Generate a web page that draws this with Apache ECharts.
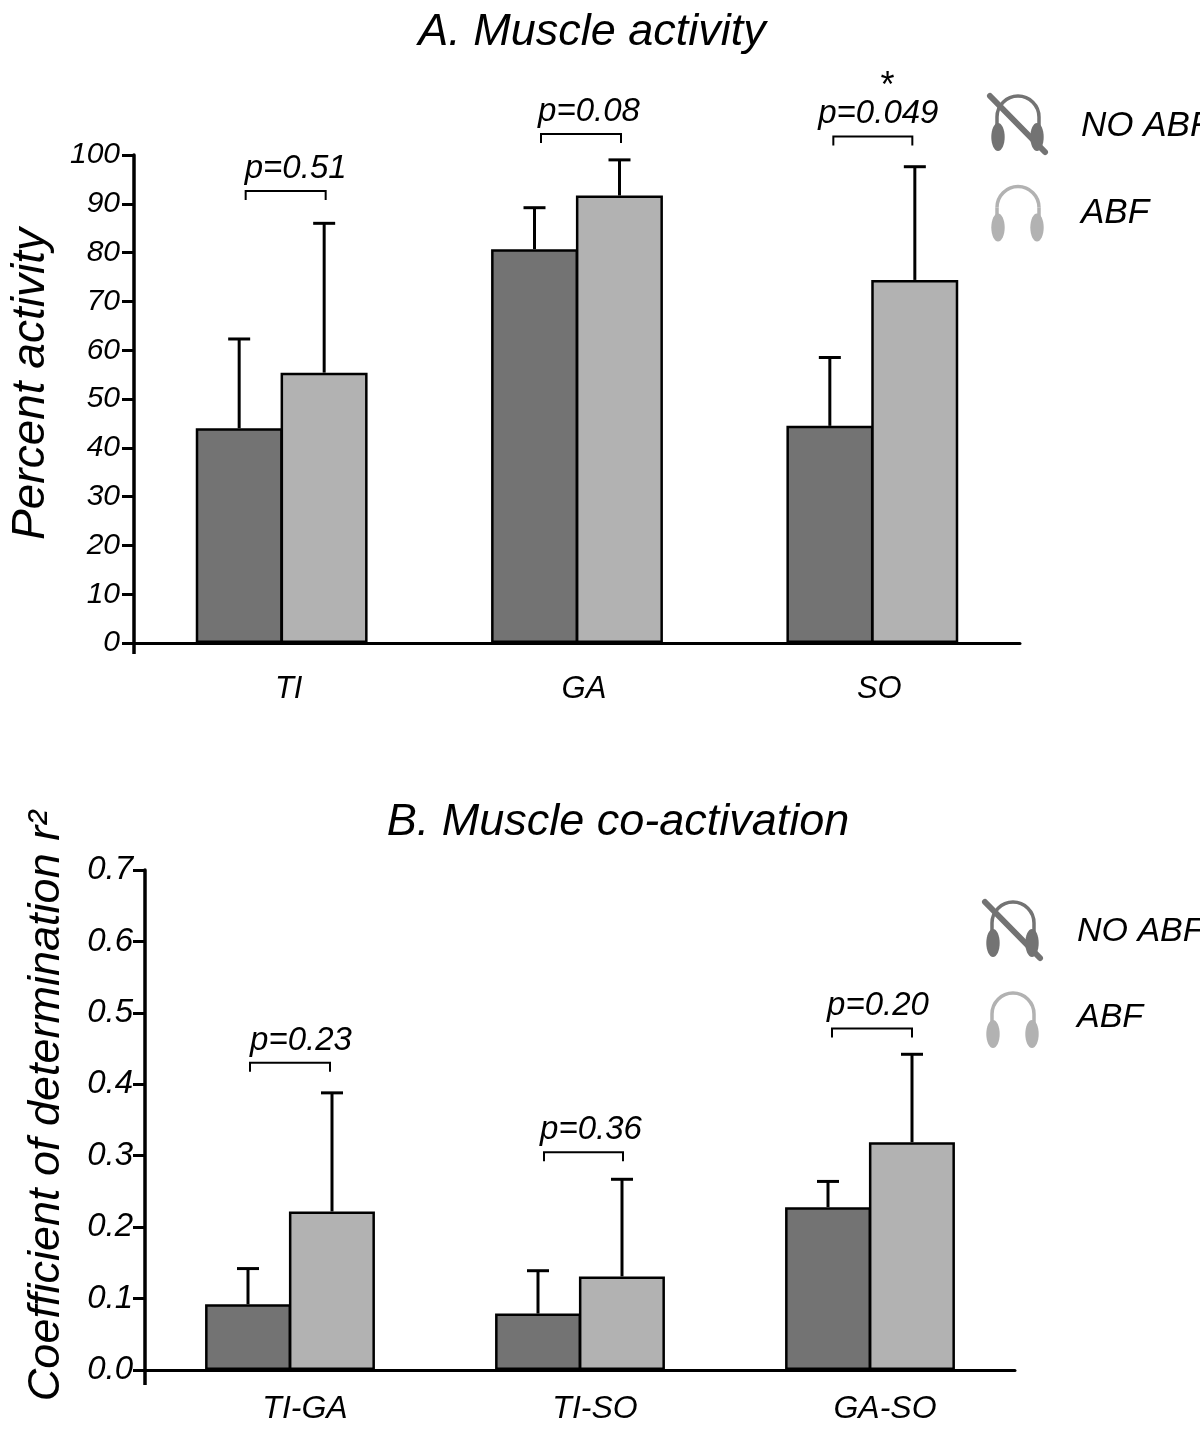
<!DOCTYPE html>
<html><head><meta charset="utf-8">
<style>html,body{margin:0;padding:0;background:#fff}#c{width:1200px;height:1430px}</style>
<script src="https://cdn.jsdelivr.net/npm/echarts@6/dist/echarts.min.js"></script>
</head><body><div id="c"></div>
<script>
const catA = ['TI','GA','SO'];
const noAbfA = [44, 80.7, 44.5];
const abfA = [55.4, 91.7, 74.4];
const noAbfTopA = [62.3, 89.2, 58.5];
const abfTopA = [86, 99, 97.6];
const pA = ['p=0.51','p=0.08','p=0.049'];
const bracketA = [92.6, 104.3, 103.8];

const catB = ['TI-GA','TI-SO','GA-SO'];
const noAbfB = [0.092, 0.079, 0.228];
const abfB = [0.222, 0.131, 0.319];
const noAbfTopB = [0.142, 0.139, 0.264];
const abfTopB = [0.388, 0.267, 0.442];
const pB = ['p=0.23','p=0.36','p=0.20'];
const bracketB = [0.43, 0.305, 0.478];

const FONT = '"Liberation Sans", Arial, sans-serif';
const DARK = '#737373', LIGHT = '#b2b2b2', BLACK = '#000';
const G = [
  {left:134, right:180, top:155, height:488, stem:42.5, barW:87,
   bx:[[-36,44],[-36,44],[-39,40]], lx:[14,12,6]},
  {left:145, right:185, top:870, height:500, stem:42, barW:86,
   bx:[[-40,40],[-36,43],[-38,42]], lx:[11,11,8]}
];
function bars(name, data, color, gi){
  return {type:'bar', name, data, xAxisIndex:gi, yAxisIndex:gi, barWidth:G[gi].barW, barGap:'-2.5%',
    itemStyle:{color, borderColor:BLACK, borderWidth:2.5}, silent:true, z:3};
}
function err(tops, side, gi){
  return {type:'custom', xAxisIndex:gi, yAxisIndex:gi, data:tops.map((v,i)=>[i,v]), z:2, silent:true, clip:false,
    renderItem(p, api){
      const base = side < 0 ? (gi ? noAbfB : noAbfA) : (gi ? abfB : abfA);
      const i = api.value(0), top = api.coord([i, api.value(1)]), bot = api.coord([i, base[i]]);
      const x = top[0] + side*G[gi].stem;
      const st = {stroke:BLACK, lineWidth:3, fill:null};
      return {type:'group', children:[
        {type:'line', shape:{x1:x,y1:top[1],x2:x,y2:bot[1]}, style:st},
        {type:'line', shape:{x1:x-11,y1:top[1],x2:x+11,y2:top[1]}, style:st}
      ]};
    }};
}
function brackets(vals, labels, gi){
  return {type:'custom', xAxisIndex:gi, yAxisIndex:gi, data:vals.map((v,i)=>[i,v]), z:4, silent:true, clip:false,
    renderItem(p, api){
      const i = api.value(0), c = api.coord([i, api.value(1)]);
      const x1 = c[0]+G[gi].bx[i][0], x2 = c[0]+G[gi].bx[i][1], y = c[1];
      const st = {stroke:BLACK, lineWidth:2, fill:null};
      return {type:'group', children:[
        {type:'polyline', shape:{points:[[x1,y+9],[x1,y],[x2,y],[x2,y+9]]}, style:st},
        {type:'text', x:c[0]+G[gi].lx[i], y:y-6, style:{text:labels[i], font:'italic 33px '+FONT, fill:BLACK, align:'center', verticalAlign:'bottom'}}
      ]};
    }};
}
function xAxis(cats, gi, margin, size, pad){
  return {type:'category', gridIndex:gi, data:cats,
    axisLine:{onZero:false, lineStyle:{color:BLACK, width:3}}, axisTick:{show:false},
    axisLabel:{margin, padding:[0,0,0,pad], fontFamily:FONT, fontStyle:'italic', fontSize:size, color:BLACK}};
}
function yAxis(gi, max, interval, fmt, size, margin){
  return {type:'value', gridIndex:gi, min:0, max, interval, splitLine:{show:false},
    axisLine:{show:true, lineStyle:{color:BLACK, width:3.5}},
    axisTick:{show:true, length:12, lineStyle:{color:BLACK, width:3}},
    axisLabel:{margin, padding:[4,0,0,0], formatter:fmt, fontFamily:FONT, fontStyle:'italic', fontSize:size, color:BLACK}};
}
function phones(x, y, color, crossed){
  const st = {stroke:color, lineWidth:3.5, fill:null};
  const ch = [
    {type:'arc', shape:{cx:x,cy:y-5,r:21,startAngle:Math.PI,endAngle:2*Math.PI,clockwise:true}, style:st},
    {type:'line', shape:{x1:x-21,y1:y-5,x2:x-21,y2:y+8}, style:st},
    {type:'line', shape:{x1:x+21,y1:y-5,x2:x+21,y2:y+8}, style:st},
    {type:'ellipse', shape:{cx:x-20,cy:y+15,rx:6.7,ry:14}, style:{fill:color}},
    {type:'ellipse', shape:{cx:x+19,cy:y+15,rx:6.7,ry:14}, style:{fill:color}}
  ];
  if (crossed) ch.push({type:'line', shape:{x1:x-28,y1:y-26,x2:x+27,y2:y+30}, style:{stroke:color, lineWidth:6, lineCap:'round'}});
  return {type:'group', children:ch};
}
function t(x,y,text,size){
  return {type:'text', x, y, style:{text, font:`italic ${size}px ${FONT}`, fill:BLACK, align:'left', verticalAlign:'middle'}};
}
const graphic = [
  phones(1018,122,DARK,true), phones(1018,212.5,LIGHT,false),
  phones(1013,928,DARK,true), phones(1013,1019,LIGHT,false),
  t(1081,126,'NO ABF',35), t(1081,213,'ABF',35),
  t(1077,932,'NO ABF',34), t(1077,1018,'ABF',34),
  {type:'text', x:886, y:87, style:{text:'*', font:'italic 36px '+FONT, fill:BLACK, align:'center', verticalAlign:'middle'}},
  {type:'line', shape:{x1:134,y1:643,x2:134,y2:654}, style:{stroke:BLACK,lineWidth:3.5}},
  {type:'line', shape:{x1:145,y1:1370,x2:145,y2:1385}, style:{stroke:BLACK,lineWidth:3.5}},
  {type:'text', x:31, y:384, rotation:Math.PI/2, style:{text:'Percent activity', font:`italic 46px ${FONT}`, fill:BLACK, align:'center', verticalAlign:'middle'}},
  {type:'text', x:46, y:1106, rotation:Math.PI/2, style:{text:'Coefficient of determination r²', font:`italic 45px ${FONT}`, fill:BLACK, align:'center', verticalAlign:'middle'}}
];
const chart = echarts.init(document.getElementById('c'), null, {renderer:'canvas'});
chart.setOption({
  animation:false, backgroundColor:'#fff',
  title:[
    {text:'A. Muscle activity', left:587, top:27, textAlign:'center', textVerticalAlign:'middle', textStyle:{fontFamily:FONT, fontStyle:'italic', fontWeight:'normal', fontSize:45, color:BLACK}},
    {text:'B. Muscle co-activation', left:613, top:817, textAlign:'center', textVerticalAlign:'middle', textStyle:{fontFamily:FONT, fontStyle:'italic', fontWeight:'normal', fontSize:45, color:BLACK}}
  ],
  grid:G.map(g=>({left:g.left, right:g.right, top:g.top, height:g.height})),
  xAxis:[xAxis(catA,0,31,31,14), xAxis(catB,1,23,32,30)],
  yAxis:[yAxis(0,100,10,v=>String(v),30,14), yAxis(1,0.7,0.1,v=>v.toFixed(1),33,12)],
  series:[
    err(noAbfTopA,-1,0), err(abfTopA,1,0),
    bars('NO ABF',noAbfA,DARK,0), bars('ABF',abfA,LIGHT,0), brackets(bracketA,pA,0),
    err(noAbfTopB,-1,1), err(abfTopB,1,1),
    bars('NO ABF',noAbfB,DARK,1), bars('ABF',abfB,LIGHT,1), brackets(bracketB,pB,1)
  ],
  graphic
});
</script></body></html>
